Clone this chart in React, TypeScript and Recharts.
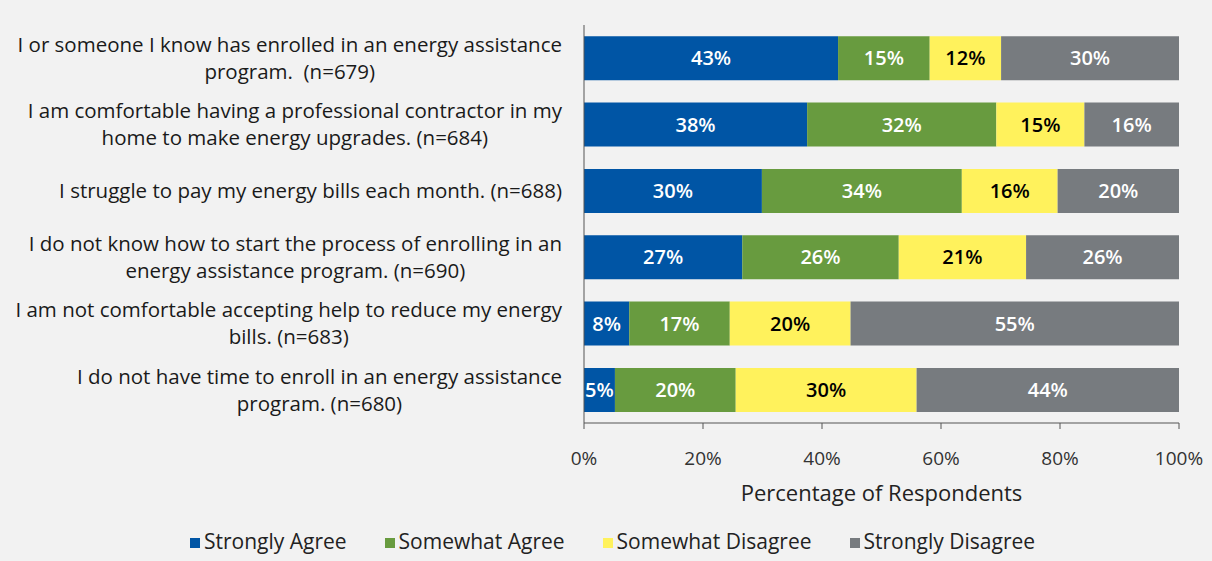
import { BarChart, Bar, XAxis, YAxis, Legend, LabelList } from "recharts";

const categories = [
  "I or someone I know has enrolled in an energy assistance\nprogram.  (n=679)",
  "I am comfortable having a professional contractor in my\nhome to make energy upgrades. (n=684)",
  "I struggle to pay my energy bills each month. (n=688)",
  "I do not know how to start the process of enrolling in an\nenergy assistance program. (n=690)",
  "I am not comfortable accepting help to reduce my energy\nbills. (n=683)",
  "I do not have time to enroll in an energy assistance\nprogram. (n=680)",
];

const seriesNames = ["Strongly Agree", "Somewhat Agree", "Somewhat Disagree", "Strongly Disagree"];

const stronglyAgree = [42.7, 37.5, 29.9, 26.6, 7.6, 5.2];
const somewhatAgree = [15.4, 31.8, 33.6, 26.3, 16.9, 20.3];
const somewhatDisagree = [12.0, 14.8, 16.1, 21.4, 20.3, 30.4];
const stronglyDisagree = [29.9, 15.9, 20.4, 25.7, 55.2, 44.1];

const xTicks = [0, 20, 40, 60, 80, 100];

const FONT = "Open Sans";
const LABEL_SIZE = 20.5;

const data = categories.map((label, i) => ({
  label,
  sa: stronglyAgree[i],
  wa: somewhatAgree[i],
  wd: somewhatDisagree[i],
  sd: stronglyDisagree[i],
}));

let ctx: CanvasRenderingContext2D | null = null;
function textWidth(s: string) {
  if (!ctx) ctx = document.createElement("canvas").getContext("2d");
  if (!ctx) return s.length * 9;
  ctx.font = `${LABEL_SIZE}px "${FONT}"`;
  return ctx.measureText(s).width;
}

function CategoryTick(props: any) {
  const { x, y, payload } = props;
  const lines = String(payload.value).split("\n");
  const w = Math.max(...lines.map(textWidth));
  const cx = x - w / 2;
  const lh = 27;
  const y0 = y - ((lines.length - 1) * lh) / 2;
  return (
    <text
      textAnchor="middle"
      fill="#1a1a1a"
      fontSize={LABEL_SIZE}
      fontFamily={FONT}
      style={{ whiteSpace: "pre" }}
    >
      {lines.map((l, i) => (
        <tspan key={i} x={cx} y={y0 + i * lh} dy="0.35em">
          {l}
        </tspan>
      ))}
    </text>
  );
}

const pct = (v: any) => Math.round(Number(v)) + "%";
const labelStyle = { fontWeight: 600, fontSize: 20, fontFamily: FONT };

export default function App() {
  return (
    <div
      style={{
        position: "absolute",
        left: 0,
        top: 0,
        width: 1212,
        height: 561,
        background: "#f2f2f2",
        fontFamily: FONT,
      }}
    >
      <BarChart
        width={1212}
        height={561}
        data={data}
        layout="vertical"
        margin={{ top: 25, right: 33, left: 0, bottom: 6 }}
        barCategoryGap="17%"
      >
        <XAxis
          type="number"
          domain={[0, 100]}
          ticks={xTicks}
          tickFormatter={(v) => v + "%"}
          tick={{ fontSize: 19, fill: "#333" }}
          axisLine={{ stroke: "#555" }}
          tickLine={{ stroke: "#555" }}
          tickSize={6}
          tickMargin={23}
          height={104}
          label={{
            value: "Percentage of Respondents",
            position: "insideBottom",
            offset: 26,
            fontSize: 22,
            fill: "#222",
          }}
        />
        <YAxis
          type="category"
          dataKey="label"
          width={584}
          tickLine={false}
          tickSize={0}
          tickMargin={22}
          axisLine={{ stroke: "#555" }}
          tick={<CategoryTick />}
          interval={0}
        />
        <Legend
          verticalAlign="bottom"
          align="center"
          iconType="square"
          iconSize={10}
          itemSorter={(item: any) => seriesNames.indexOf(item.value)}
          wrapperStyle={{ fontSize: 21, paddingLeft: 42 }}
          formatter={(value) => (
            <span style={{ color: "#222", marginRight: 28 }}>{value}</span>
          )}
        />
        <Bar dataKey="sa" name={seriesNames[0]} stackId="a" fill="#0055a5" isAnimationActive={false}>
          <LabelList dataKey="sa" position="center" formatter={pct} fill="#ffffff" style={labelStyle} />
        </Bar>
        <Bar dataKey="wa" name={seriesNames[1]} stackId="a" fill="#689b3f" isAnimationActive={false}>
          <LabelList dataKey="wa" position="center" formatter={pct} fill="#ffffff" style={labelStyle} />
        </Bar>
        <Bar dataKey="wd" name={seriesNames[2]} stackId="a" fill="#fff25c" isAnimationActive={false}>
          <LabelList dataKey="wd" position="center" formatter={pct} fill="#000000" style={labelStyle} />
        </Bar>
        <Bar dataKey="sd" name={seriesNames[3]} stackId="a" fill="#777b7f" isAnimationActive={false}>
          <LabelList dataKey="sd" position="center" formatter={pct} fill="#ffffff" style={labelStyle} />
        </Bar>
      </BarChart>
    </div>
  );
}
